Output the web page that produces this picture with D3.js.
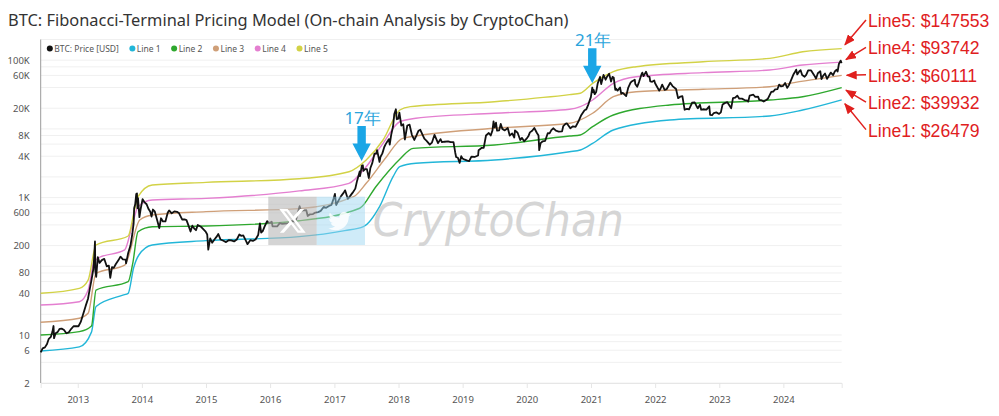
<!DOCTYPE html>
<html>
<head>
<meta charset="utf-8">
<script src="https://cdn.jsdelivr.net/npm/d3@7"></script>
<style>
    body { margin: 0; background: #fff; overflow: hidden; }
    svg { display: block; font-family: "Noto Sans", sans-serif; }
</style>
</head>
<body>
<svg class="visSVG"></svg>
<script>
const svgWidth = 999;
const svgHeight = 416;

// BTC price (USD)
const btcPrice = [
    ["2012-06-04",5.6],["2012-06-15",6.4],["2012-06-28",6.6],["2012-07-10",7.4],["2012-07-20",8.8],["2012-08-01",9.4],
    ["2012-08-10",11.2],["2012-08-16",13.5],["2012-08-19",9.0],["2012-08-28",10.6],["2012-09-08",11.0],["2012-09-20",12.3],
    ["2012-10-01",12.4],["2012-10-15",11.8],["2012-10-28",10.6],["2012-11-10",10.9],["2012-11-25",12.3],["2012-12-08",13.4],
    ["2012-12-20",13.5],["2013-01-05",13.4],["2013-01-18",15.5],["2013-02-01",20.2],["2013-02-15",26.5],["2013-02-28",33.4],
    ["2013-03-10",46],["2013-03-20",63],["2013-03-31",92],["2013-04-05",142],["2013-04-09",230],["2013-04-11",85],
    ["2013-04-16",70],["2013-04-25",136],["2013-05-05",112],["2013-05-18",123],["2013-06-01",128],["2013-06-15",100],
    ["2013-06-27",102],["2013-07-05",68],["2013-07-15",97],["2013-07-25",95],["2013-08-05",107],["2013-08-20",122],
    ["2013-09-01",138],["2013-09-15",126],["2013-10-01",125],["2013-10-03",110],["2013-10-15",156],["2013-10-28",200],
    ["2013-11-08",300],["2013-11-15",420],["2013-11-18",700],["2013-11-24",800],["2013-11-30",1130],["2013-12-04",1150],
    ["2013-12-07",700],["2013-12-10",980],["2013-12-18",520],["2013-12-25",680],["2014-01-05",950],["2014-01-15",860],
    ["2014-01-28",800],["2014-02-08",680],["2014-02-18",620],["2014-02-25",530],["2014-03-05",670],["2014-03-15",630],
    ["2014-03-28",480],["2014-04-10",360],["2014-04-20",500],["2014-05-01",450],["2014-05-15",450],["2014-05-28",600],
    ["2014-06-05",650],["2014-06-20",590],["2014-07-05",630],["2014-07-20",620],["2014-08-01",590],["2014-08-18",480],
    ["2014-09-01",480],["2014-09-12",470],["2014-09-22",400],["2014-10-05",320],["2014-10-15",390],["2014-10-28",350],
    ["2014-11-05",335],["2014-11-15",400],["2014-12-01",380],["2014-12-15",350],["2014-12-30",320],["2015-01-08",290],
    ["2015-01-14",175],["2015-01-25",255],["2015-02-05",220],["2015-02-18",245],["2015-03-05",275],["2015-03-12",295],
    ["2015-03-25",245],["2015-04-10",235],["2015-04-25",225],["2015-05-10",240],["2015-05-25",238],["2015-06-10",230],
    ["2015-06-25",245],["2015-07-10",290],["2015-07-20",278],["2015-08-01",282],["2015-08-18",230],["2015-08-25",210],
    ["2015-09-10",240],["2015-09-25",234],["2015-10-10",245],["2015-10-25",285],["2015-11-04",420],["2015-11-11",310],
    ["2015-11-20",325],["2015-12-01",380],["2015-12-15",455],["2015-12-28",425],["2016-01-10",445],["2016-01-15",380],
    ["2016-01-28",380],["2016-02-10",380],["2016-02-25",425],["2016-03-10",415],["2016-03-25",418],["2016-04-10",420],
    ["2016-04-28",450],["2016-05-10",455],["2016-05-25",448],["2016-06-05",575],["2016-06-17",750],["2016-06-25",640],
    ["2016-07-10",650],["2016-07-25",655],["2016-08-02",540],["2016-08-15",570],["2016-09-01",575],["2016-09-15",606],
    ["2016-10-01",615],["2016-10-15",640],["2016-11-01",730],["2016-11-15",710],["2016-12-01",755],["2016-12-15",780],
    ["2016-12-28",975],["2017-01-04",1130],["2017-01-11",780],["2017-01-25",910],["2017-02-08",1050],["2017-02-23",1180],
    ["2017-03-03",1275],["2017-03-18",960],["2017-03-30",1040],["2017-04-15",1180],["2017-04-30",1350],["2017-05-10",1750],
    ["2017-05-25",2400],["2017-05-27",2050],["2017-06-06",2900],["2017-06-12",2950],["2017-06-15",2450],["2017-06-25",2600],
    ["2017-07-05",2600],["2017-07-16",1930],["2017-07-25",2700],["2017-08-05",3200],["2017-08-17",4350],["2017-08-27",4350],
    ["2017-09-01",4900],["2017-09-15",3300],["2017-09-20",3900],["2017-10-01",4400],["2017-10-12",5450],["2017-10-20",6000],
    ["2017-11-01",6700],["2017-11-07",7100],["2017-11-12",5900],["2017-11-20",8100],["2017-12-01",10900],["2017-12-08",16500],
    ["2017-12-17",19300],["2017-12-22",13800],["2017-12-31",14100],["2018-01-06",17200],["2018-01-17",11200],["2018-01-28",11700],
    ["2018-02-06",7000],["2018-02-20",11200],["2018-03-05",11500],["2018-03-18",8200],["2018-04-01",6900],["2018-04-12",7900],
    ["2018-04-25",9400],["2018-05-05",9700],["2018-05-28",7200],["2018-06-10",6700],["2018-06-28",5900],["2018-07-10",6300],
    ["2018-07-25",8200],["2018-08-14",6200],["2018-08-28",7100],["2018-09-05",6400],["2018-09-20",6500],["2018-10-10",6600],
    ["2018-10-25",6400],["2018-11-10",6400],["2018-11-20",4500],["2018-11-25",3900],["2018-12-05",3800],["2018-12-15",3200],
    ["2018-12-24",4000],["2018-12-31",3700],["2019-01-10",3600],["2019-01-28",3450],["2019-02-07",3400],["2019-02-20",3950],
    ["2019-03-10",3900],["2019-03-30",4100],["2019-04-02",4900],["2019-04-20",5300],["2019-05-01",5300],["2019-05-14",8000],
    ["2019-05-30",8700],["2019-06-10",8000],["2019-06-20",9500],["2019-06-26",12900],["2019-07-02",10500],["2019-07-10",12300],
    ["2019-07-16",9400],["2019-07-28",9500],["2019-08-06",11800],["2019-08-15",10000],["2019-08-29",9500],["2019-09-15",10300],
    ["2019-09-26",8000],["2019-10-10",8600],["2019-10-22",7500],["2019-10-26",9500],["2019-11-10",8800],["2019-11-25",6900],
    ["2019-12-05",7400],["2019-12-17",6600],["2019-12-31",7200],["2020-01-10",7800],["2020-01-19",8900],["2020-02-01",9400],
    ["2020-02-13",10300],["2020-02-28",8700],["2020-03-08",8000],["2020-03-12",4900],["2020-03-20",6200],["2020-04-01",6600],
    ["2020-04-15",6700],["2020-04-30",8700],["2020-05-10",8600],["2020-05-20",9600],["2020-06-01",10200],["2020-06-15",9400],
    ["2020-07-01",9150],["2020-07-20",9200],["2020-07-27",11000],["2020-08-10",11900],["2020-08-17",12000],["2020-09-05",10200],
    ["2020-09-20",10900],["2020-10-05",10700],["2020-10-21",12800],["2020-11-05",15600],["2020-11-25",18700],["2020-12-05",19200],
    ["2020-12-17",22800],["2020-12-31",29000],["2021-01-08",40000],["2021-01-13",34000],["2021-01-16",37000],["2021-01-22",32000],
    ["2021-01-30",34300],["2021-02-08",46000],["2021-02-21",57000],["2021-02-28",45000],["2021-03-13",61000],["2021-03-25",52000],
    ["2021-04-03",58000],["2021-04-14",63500],["2021-04-25",49000],["2021-05-03",57000],["2021-05-10",56000],["2021-05-19",37000],
    ["2021-05-24",38500],["2021-06-01",36000],["2021-06-15",40000],["2021-06-22",32500],["2021-07-01",33500],["2021-07-20",30000],
    ["2021-08-01",40000],["2021-08-14",47000],["2021-08-23",49500],["2021-09-07",52000],["2021-09-10",45000],["2021-09-21",41000],
    ["2021-10-01",48000],["2021-10-15",62000],["2021-10-20",66000],["2021-10-27",58500],["2021-11-10",68000],["2021-11-20",58000],
    ["2021-11-30",57000],["2021-12-04",49000],["2021-12-15",48500],["2021-12-27",50800],["2021-12-31",46500],["2022-01-10",41800],
    ["2022-01-24",36000],["2022-02-01",38700],["2022-02-10",44000],["2022-02-24",37000],["2022-03-08",38000],["2022-03-28",47000],
    ["2022-04-10",42000],["2022-04-30",38000],["2022-05-09",30000],["2022-05-12",28000],["2022-05-25",29500],["2022-06-05",30000],
    ["2022-06-13",22500],["2022-06-18",19000],["2022-07-01",19500],["2022-07-13",19300],["2022-07-30",24000],["2022-08-14",24300],
    ["2022-08-25",21400],["2022-09-01",20000],["2022-09-13",22400],["2022-09-20",19000],["2022-10-01",19300],["2022-10-20",19100],
    ["2022-11-05",21300],["2022-11-10",16000],["2022-11-21",15800],["2022-12-01",17000],["2022-12-15",17400],["2022-12-31",16500],
    ["2023-01-10",17400],["2023-01-20",22700],["2023-02-01",23700],["2023-02-16",24500],["2023-03-10",20000],["2023-03-20",28000],
    ["2023-04-01",28400],["2023-04-14",30500],["2023-04-25",27500],["2023-05-10",27600],["2023-05-25",26300],["2023-06-10",25800],
    ["2023-06-15",25000],["2023-06-23",30500],["2023-07-14",31400],["2023-07-25",29200],["2023-08-10",29400],["2023-08-17",26500],
    ["2023-09-01",25900],["2023-09-11",25000],["2023-09-25",26300],["2023-10-05",27500],["2023-10-24",34500],["2023-11-05",35000],
    ["2023-11-15",37500],["2023-11-28",37800],["2023-12-08",44000],["2023-12-18",41500],["2023-12-31",42300],["2024-01-11",46500],
    ["2024-01-23",39500],["2024-02-01",43000],["2024-02-15",52000],["2024-02-28",62500],["2024-03-05",66000],["2024-03-14",73000],
    ["2024-03-20",62000],["2024-04-01",69000],["2024-04-08",71500],["2024-04-17",61000],["2024-05-01",57500],["2024-05-10",61000],
    ["2024-05-21",71000],["2024-06-07",71000],["2024-06-24",60500],["2024-07-05",54000],["2024-07-15",64500],["2024-07-29",69000],
    ["2024-08-05",53000],["2024-08-14",59000],["2024-08-25",64000],["2024-09-06",53500],["2024-09-17",60000],["2024-09-27",66000],
    ["2024-10-10",60500],["2024-10-20",68500],["2024-10-29",72500],["2024-11-05",68500],["2024-11-12",88000],["2024-11-15",91000],
    ["2024-11-22",98500],["2024-11-26",93000],["2024-11-28",95600]
];

// model lines
const line1 = [
    ["2012-06-04",5.85],["2013-01-10",6.7],["2013-03-20",11],["2013-04-15",26],["2013-09-15",38],["2013-10-15",40.4],
    ["2013-11-15",95],["2013-12-15",146],["2014-03-01",204],["2015-01-01",236],["2016-06-15",270],["2017-03-01",330],
    ["2017-06-15",377],["2017-09-15",737],["2017-12-01",2014],["2018-01-08",2817],["2018-04-10",3155],["2019-07-01",3525],
    ["2020-09-01",4656],["2020-11-01",4930],["2021-01-10",6165],["2021-05-08",9640],["2022-03-25",13460],["2023-10-15",15390],
    ["2024-04-20",18830],["2024-11-28",26479]
];
const line2 = [
    ["2012-06-04",10.0],["2013-01-10",11.2],["2013-03-20",13.5],["2013-04-15",45],["2013-10-15",59.7],["2013-11-10",110],
    ["2013-12-10",318],["2014-03-01",377],["2015-01-01",386],["2016-06-15",460],["2017-05-25",699],["2017-08-25",1440],
    ["2018-01-08",3608],["2018-03-25",5212],["2019-07-01",5826],["2020-09-01",7880],["2020-11-01",8150],["2021-01-10",10770],
    ["2021-05-08",15920],["2022-03-25",22280],["2023-10-15",26320],["2024-04-20",29390],["2024-11-28",39932]
];
const line3 = [
    ["2012-06-04",15.3],["2013-01-10",17.5],["2013-03-01",20.7],["2013-04-15",79],["2013-09-25",104],["2013-12-20",472],
    ["2014-03-01",557],["2015-01-01",624],["2016-06-15",690],["2017-04-20",1030],["2017-07-01",1614],["2017-10-25",3936],
    ["2018-01-25",7290],["2019-07-01",10190],["2020-09-01",12050],["2021-01-10",16870],["2021-05-08",29390],["2021-09-15",34770],
    ["2022-10-01",37690],["2023-10-15",41100],["2024-02-05",46050],["2024-11-28",60111]
];
const line4 = [
    ["2012-06-04",27.3],["2013-01-10",30.5],["2013-03-01",45],["2013-04-01",110],["2013-04-25",131],["2013-09-25",173],
    ["2013-11-05",377],["2013-12-10",737],["2014-03-01",922],["2015-01-01",975],["2016-06-15",1250],["2017-03-25",1614],
    ["2017-07-01",2817],["2017-10-05",6165],["2018-01-08",12700],["2018-04-10",14260],["2019-07-01",16870],["2020-09-01",19270],
    ["2020-11-01",21050],["2021-01-10",26320],["2021-05-08",46050],["2021-09-15",57500],["2022-10-01",65800],["2023-10-15",71950],
    ["2024-04-20",85100],["2024-11-28",93742]
];
const line5 = [
    ["2012-06-04",40.4],["2013-01-10",47.8],["2013-03-01",63],["2013-04-15",204],["2013-10-15",276],["2013-11-20",659],
    ["2013-12-10",1030],["2014-03-01",1525],["2015-01-01",1667],["2016-06-15",1880],["2017-03-25",2380],["2017-07-01",3525],
    ["2017-10-05",6890],["2018-01-08",18830],["2018-03-10",21050],["2019-07-01",24880],["2020-09-01",31500],["2020-11-01",33000],
    ["2021-01-10",46050],["2021-05-08",67950],["2021-09-15",80400],["2022-10-01",95000],["2023-10-15",106400],["2024-04-20",132800],
    ["2024-11-28",147553]
];

const seriesNames = ["BTC: Price [USD]", "Line 1", "Line 2", "Line 3", "Line 4", "Line 5"];
const seriesColours = ["#111111", "#22b6d8", "#2ea82e", "#cf9f78", "#e47fd0", "#d2d246"];

const yTickValues = [2, 6, 10, 40, 80, 200, 600, 1000, 4000, 8000, 20000, 60000, 100000];
const yGridValues = [2, 4, 6, 8, 10, 20, 40, 60, 80, 100, 200, 400, 600, 800, 1000, 2000, 4000, 6000, 8000,
    10000, 20000, 40000, 60000, 80000, 100000, 200000];

const endLabels = ["Line5: $147553", "Line4: $93742", "Line3: $60111", "Line2: $39932", "Line1: $26479"];
const endValues = [147553, 93742, 60111, 39932, 26479];

const eventLabels = ["17年", "21年"];
const eventDates = ["2017-06-05", "2021-01-08"];
const eventValues = [3400, 46000];

const titleText = "BTC: Fibonacci-Terminal Pricing Model (On-chain Analysis by CryptoChan)";

const parseDate = d3.timeParse("%Y-%m-%d");

var margin = { top: 39.5, left: 40.7, right: 157.3, bottom: 33 };
var innerWidth = svgWidth - margin.left - margin.right;
var innerHeight = svgHeight - margin.top - margin.bottom;

const svg = d3.select('.visSVG')
    .attr("width", svgWidth)
    .attr("height", svgHeight);

const xScale = d3.scaleTime()
    .domain([parseDate("2012-06-04"), parseDate("2024-11-28")])
    .range([0, innerWidth]);

const yScale = d3.scaleLog()
    .domain([2, 200000])
    .range([innerHeight, 0]);

const graph = svg.append("g")
    .attr("transform", "translate(" + margin.left + "," + margin.top + ")");

// GRID
graph.append("g")
    .selectAll("line")
    .data(yGridValues).enter().append("line")
        .attr("x1", 0)
        .attr("x2", innerWidth)
        .attr("y1", function(d) { return yScale(d); })
        .attr("y2", function(d) { return yScale(d); })
        .attr("stroke", "#f0f0f0")
        .attr("stroke-width", 1);

// Y AXIS
const yAxis = graph.append("g")
    .call(d3.axisLeft(yScale)
        .tickValues(yTickValues)
        .tickSize(0)
        .tickPadding(11)
        .tickFormat(function(d) { return d >= 1000 ? (d / 1000) + "K" : d; }));
yAxis.select(".domain").remove();
yAxis.selectAll("text")
    .attr("fill", "#555")
    .style("font-size", "9.5px")
    .style("font-family", "Noto Sans, sans-serif");

graph.append("line")
    .attr("x1", 0).attr("x2", 0)
    .attr("y1", 0).attr("y2", innerHeight)
    .attr("stroke", "#9a9a9a")
    .attr("stroke-width", 1);

// X AXIS
const xAxis = graph.append("g")
    .attr("transform", "translate(0," + innerHeight + ")")
    .call(d3.axisBottom(xScale)
        .ticks(d3.timeYear.every(1))
        .tickSize(5)
        .tickPadding(8)
        .tickFormat(d3.timeFormat("%Y")));
xAxis.select(".domain").attr("stroke", "#e6e6e6");
xAxis.selectAll(".tick line").attr("stroke", "#e6e6e6");
xAxis.selectAll("text")
    .attr("fill", "#555")
    .style("font-size", "9.5px")
    .style("font-family", "Noto Sans, sans-serif");

// LINES
const lineGen = d3.line()
    .x(function(d) { return xScale(parseDate(d[0])); })
    .y(function(d) { return yScale(d[1]); })
    .curve(d3.curveMonotoneX);

[line1, line2, line3, line4, line5].forEach(function(series, i) {
    graph.append("path")
        .datum(series)
        .attr("fill", "none")
        .attr("stroke", seriesColours[i + 1])
        .attr("stroke-width", 1.4)
        .attr("d", lineGen);
});

const priceGen = d3.line()
    .x(function(d) { return xScale(parseDate(d[0])); })
    .y(function(d) { return yScale(d[1]); });

graph.append("path")
    .datum(btcPrice)
    .attr("fill", "none")
    .attr("stroke", seriesColours[0])
    .attr("stroke-width", 1.8)
    .attr("stroke-linejoin", "round")
    .attr("d", priceGen);

// WATERMARK
const wm = graph.append("g").attr("transform", "translate(" + (268.3 - margin.left) + "," + (196.7 - margin.top) + ")");
wm.append("rect").attr("width", 48.4).attr("height", 48.3).attr("fill", "rgba(185,185,185,0.62)");
wm.append("rect").attr("x", 48.4).attr("width", 48.3).attr("height", 48.3).attr("fill", "rgba(160,215,242,0.5)");
wm.append("path")
    .attr("transform", "translate(11,11) scale(1.1)")
    .attr("fill", "#fff")
    .attr("d", "M18.901 1.153h3.68l-8.04 9.19L24 22.846h-7.406l-5.8-7.584-6.638 7.584H.474l8.6-9.83L0 1.154h7.594l5.243 6.932ZM17.61 20.644h2.039L6.486 3.24H4.298Z");
wm.append("path")
    .attr("transform", "translate(60,13) scale(0.95)")
    .attr("fill", "#fff")
    .attr("opacity", 0.85)
    .attr("d", "M23.95 4.57a10 10 0 0 1-2.82.77 4.96 4.96 0 0 0 2.16-2.72c-.95.56-2 .96-3.13 1.18a4.92 4.92 0 0 0-8.38 4.48C7.69 8.1 4.07 6.13 1.64 3.16a4.82 4.82 0 0 0-.67 2.48c0 1.71.87 3.21 2.19 4.1a4.9 4.9 0 0 1-2.23-.62v.06a4.92 4.92 0 0 0 3.95 4.83 5 5 0 0 1-2.21.08 4.94 4.94 0 0 0 4.6 3.42 9.87 9.87 0 0 1-6.1 2.1c-.39 0-.78-.02-1.17-.07a14 14 0 0 0 7.56 2.21c9.05 0 14-7.5 14-13.98 0-.21 0-.42-.02-.63A9.94 9.94 0 0 0 24 4.59z");
wm.append("text")
    .attr("x", 104.5)
    .attr("y", 39.5)
    .attr("fill", "#d5d5d5")
    .attr("textLength", 251)
    .attr("lengthAdjust", "spacingAndGlyphs")
    .style("font-family", "Comic Sans MS, DejaVu Sans, sans-serif")
    .style("font-style", "italic")
    .style("font-size", "46px")
    .text("CryptoChan");

// EVENT ARROWS
eventLabels.forEach(function(label, i) {
    var tx = xScale(parseDate(eventDates[i]));
    var ty = yScale(eventValues[i]);
    graph.append("path")
        .attr("fill", "#1ba6e6")
        .attr("d", "M" + tx + "," + ty +
            " l-9.2,-17.5 h5 v-17.5 h8.4 v17.5 h5 z");
    graph.append("text")
        .attr("x", tx + 1)
        .attr("y", ty - 37)
        .attr("text-anchor", "middle")
        .attr("fill", "#2aa4dc")
        .style("font-size", "17px")
        .text(label);
});

// TITLE
svg.append("text")
    .attr("x", 8)
    .attr("y", 26)
    .attr("fill", "#333")
    .style("font-size", "16.4px")
    .text(titleText);

// LEGEND
var legendX = 49.8;
seriesNames.forEach(function(name, i) {
    svg.append("circle")
        .attr("cx", legendX)
        .attr("cy", 48.5)
        .attr("r", 3)
        .attr("fill", seriesColours[i]);
    var t = svg.append("text")
        .attr("x", legendX + 4.5)
        .attr("y", 51.5)
        .attr("fill", "#555")
        .style("font-size", "8.5px")
        .text(name);
    legendX = legendX + 4.5 + t.node().getComputedTextLength() + 13.5;
});

// END LABELS
svg.append("defs").append("marker")
    .attr("id", "redHead")
    .attr("markerUnits", "userSpaceOnUse")
    .attr("markerWidth", 11).attr("markerHeight", 9)
    .attr("refX", 10).attr("refY", 4.5)
    .attr("orient", "auto")
    .append("path")
        .attr("d", "M0,0 L11,4.5 L0,9 z")
        .attr("fill", "#e0201e");

endLabels.forEach(function(label, i) {
    var baseY = 27 + i * 27.4;
    var tail = [866, baseY - 7];
    var tgt = [margin.left + innerWidth, margin.top + yScale(endValues[i])];
    var dx = tgt[0] - tail[0], dy = tgt[1] - tail[1];
    var len = Math.sqrt(dx * dx + dy * dy);
    var k = (len - 5) / len;
    svg.append("line")
        .attr("x1", tail[0]).attr("y1", tail[1])
        .attr("x2", tail[0] + dx * k).attr("y2", tail[1] + dy * k)
        .attr("stroke", "#e0201e")
        .attr("stroke-width", 1.5)
        .attr("marker-end", "url(#redHead)");
    svg.append("text")
        .attr("x", 868)
        .attr("y", baseY)
        .attr("fill", "#e0201e")
        .style("font-family", "Liberation Sans, Arial, sans-serif")
        .style("font-size", "17.6px")
        .text(label);
});
</script>
</body>
</html>
